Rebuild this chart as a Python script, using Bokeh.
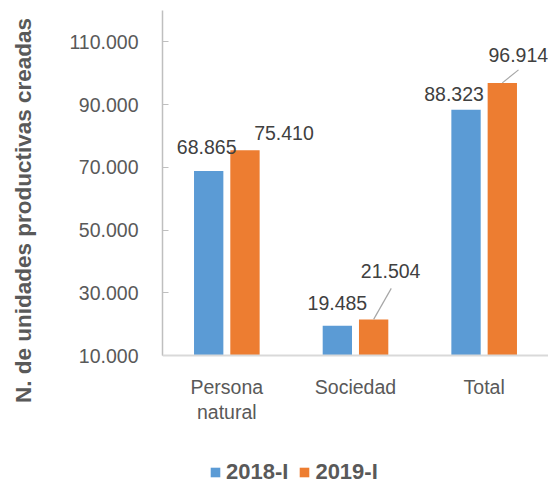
from bokeh.plotting import figure
from bokeh.models import (ColumnDataSource, LabelSet, Legend, LegendItem, FixedTicker, Span)
from bokeh.core.properties import value
from bokeh.transform import dodge
from bokeh.embed import file_html
from bokeh.resources import INLINE

# ---- data ----
categories = ["Persona natural", "Sociedad", "Total"]
cat_line1 = ["Persona", "Sociedad", "Total"]
cat_line2 = ["natural", "", ""]
series_names = ["2018-I", "2019-I"]
values_2018 = [68865, 19485, 88323]
values_2019 = [75410, 21504, 96914]
y_ticks = [10000, 30000, 50000, 70000, 90000, 110000]
y_tick_labels = ["10.000", "30.000", "50.000", "70.000", "90.000", "110.000"]
y_title = "N. de unidades productivas creadas"
y_start, y_end = 10000, 120000

def fmt(v):
    return f"{v:,}".replace(",", ".")

# ---- styles / layout ----
BLUE = "#5B9BD5"
ORANGE = "#ED7D31"
TXT = "#595959"
LBL = "#404040"
FONT = "Liberation Sans"
FS = "19.5px"
BAR_W = 0.228
DODGE = 0.141
W, H = 548, 485
TOP_PAD, LEFT_PAD = 10, 162
AXIS_PX = 345            # pixel height of the value axis
FRAME_PX = H - TOP_PAD   # frame extends down to hold category names and legend
y_lo = y_end - (y_end - y_start) * FRAME_PX / AXIS_PX
NBSP = "\u00a0" * 12     # shifts the rotated title upward, as in the original
# label offsets in screen px (x right, y up) from bar top
off_2018 = [(-2, 17), (0, 16), (-12, 9)]
off_2019 = [(39, 10), (17, 41), (16, 21)]
# leader lines: (category index, dx in category units, dy in data units)
leaders = [(1, 0.137, 9900), (2, 0.126, 4150)]

src = ColumnDataSource(dict(
    cat=categories,
    line1=cat_line1,
    line2=cat_line2,
    base=[y_start] * len(categories),
    v2018=values_2018,
    v2019=values_2019,
    l2018=[fmt(v) for v in values_2018],
    l2019=[fmt(v) for v in values_2019],
    dx18=[o[0] for o in off_2018],
    dy18=[o[1] for o in off_2018],
    dx19=[o[0] for o in off_2019],
    dy19=[o[1] for o in off_2019],
))

p = figure(x_range=categories, y_range=(y_lo, y_end), width=W, height=H,
           output_backend="svg", toolbar_location=None, x_axis_location=None,
           min_border_left=LEFT_PAD, min_border_right=0, min_border_top=TOP_PAD,
           min_border_bottom=0)
p.outline_line_color = None
p.xgrid.grid_line_color = None
p.ygrid.grid_line_color = None
p.x_range.range_padding = 0

r1 = p.vbar(x=dodge("cat", -DODGE, range=p.x_range), top="v2018", bottom=y_start,
            width=BAR_W, source=src, fill_color=BLUE, line_color=None)
r2 = p.vbar(x=dodge("cat", DODGE, range=p.x_range), top="v2019", bottom=y_start,
            width=BAR_W, source=src, fill_color=ORANGE, line_color=None)

# category axis line
p.add_layout(Span(location=y_start, dimension="width", line_color="#D9D9D9", line_width=2))

# leader lines
lx0, ly0, lx1, ly1 = [], [], [], []
for i, dx, dy in leaders:
    lx0.append((categories[i], DODGE))
    ly0.append(values_2019[i])
    lx1.append((categories[i], DODGE + dx))
    ly1.append(values_2019[i] + dy)
p.segment(x0=lx0, y0=ly0, x1=lx1, y1=ly1, line_color="#A6A6A6", line_width=1.2)

for col, dxc, dyc, d, top in [("l2018", "dx18", "dy18", -DODGE, "v2018"),
                              ("l2019", "dx19", "dy19", DODGE, "v2019")]:
    p.add_layout(LabelSet(x=dodge("cat", d, range=p.x_range), y=top, text=col, source=src,
                          x_offset=dxc, y_offset=dyc, text_align="center",
                          text_baseline="alphabetic", text_font=value(FONT),
                          text_font_size=FS, text_color=LBL))

# category names (two lines)
for col, off in [("line1", -38), ("line2", -63)]:
    p.add_layout(LabelSet(x="cat", y="base", text=col, source=src, y_offset=off,
                          text_align="center", text_baseline="alphabetic",
                          text_font=value(FONT), text_font_size=FS, text_color=TXT))

# y axis
ya = p.yaxis[0]
ya.bounds = (y_start, y_end)
ya.ticker = FixedTicker(ticks=y_ticks)
ya.major_label_overrides = dict(zip(y_ticks, y_tick_labels))
ya.major_label_text_font = FONT
ya.major_label_text_font_size = FS
ya.major_label_text_color = TXT
ya.major_tick_in = 6
ya.major_tick_out = 0
ya.minor_tick_line_color = None
ya.major_tick_line_color = "#BFBFBF"
ya.axis_line_color = "#BFBFBF"
ya.axis_line_width = 1.5
ya.major_label_standoff = 24
ya.axis_label = NBSP + y_title
ya.axis_label_text_font = FONT
ya.axis_label_text_font_style = "bold"
ya.axis_label_text_font_size = "22.5px"
ya.axis_label_text_color = TXT
ya.axis_label_standoff = 30

legend = Legend(items=[LegendItem(label=series_names[0], renderers=[r1]),
                       LegendItem(label=series_names[1], renderers=[r2])],
                orientation="horizontal", location=(47, 0),
                glyph_width=12, glyph_height=12, label_standoff=5, spacing=10,
                padding=0, margin=0, border_line_color=None,
                background_fill_alpha=0,
                label_text_font=FONT, label_text_font_style="bold",
                label_text_font_size="22px", label_text_color=TXT)
p.add_layout(legend, "center")

open("out.html", "w").write(file_html(p, INLINE))
